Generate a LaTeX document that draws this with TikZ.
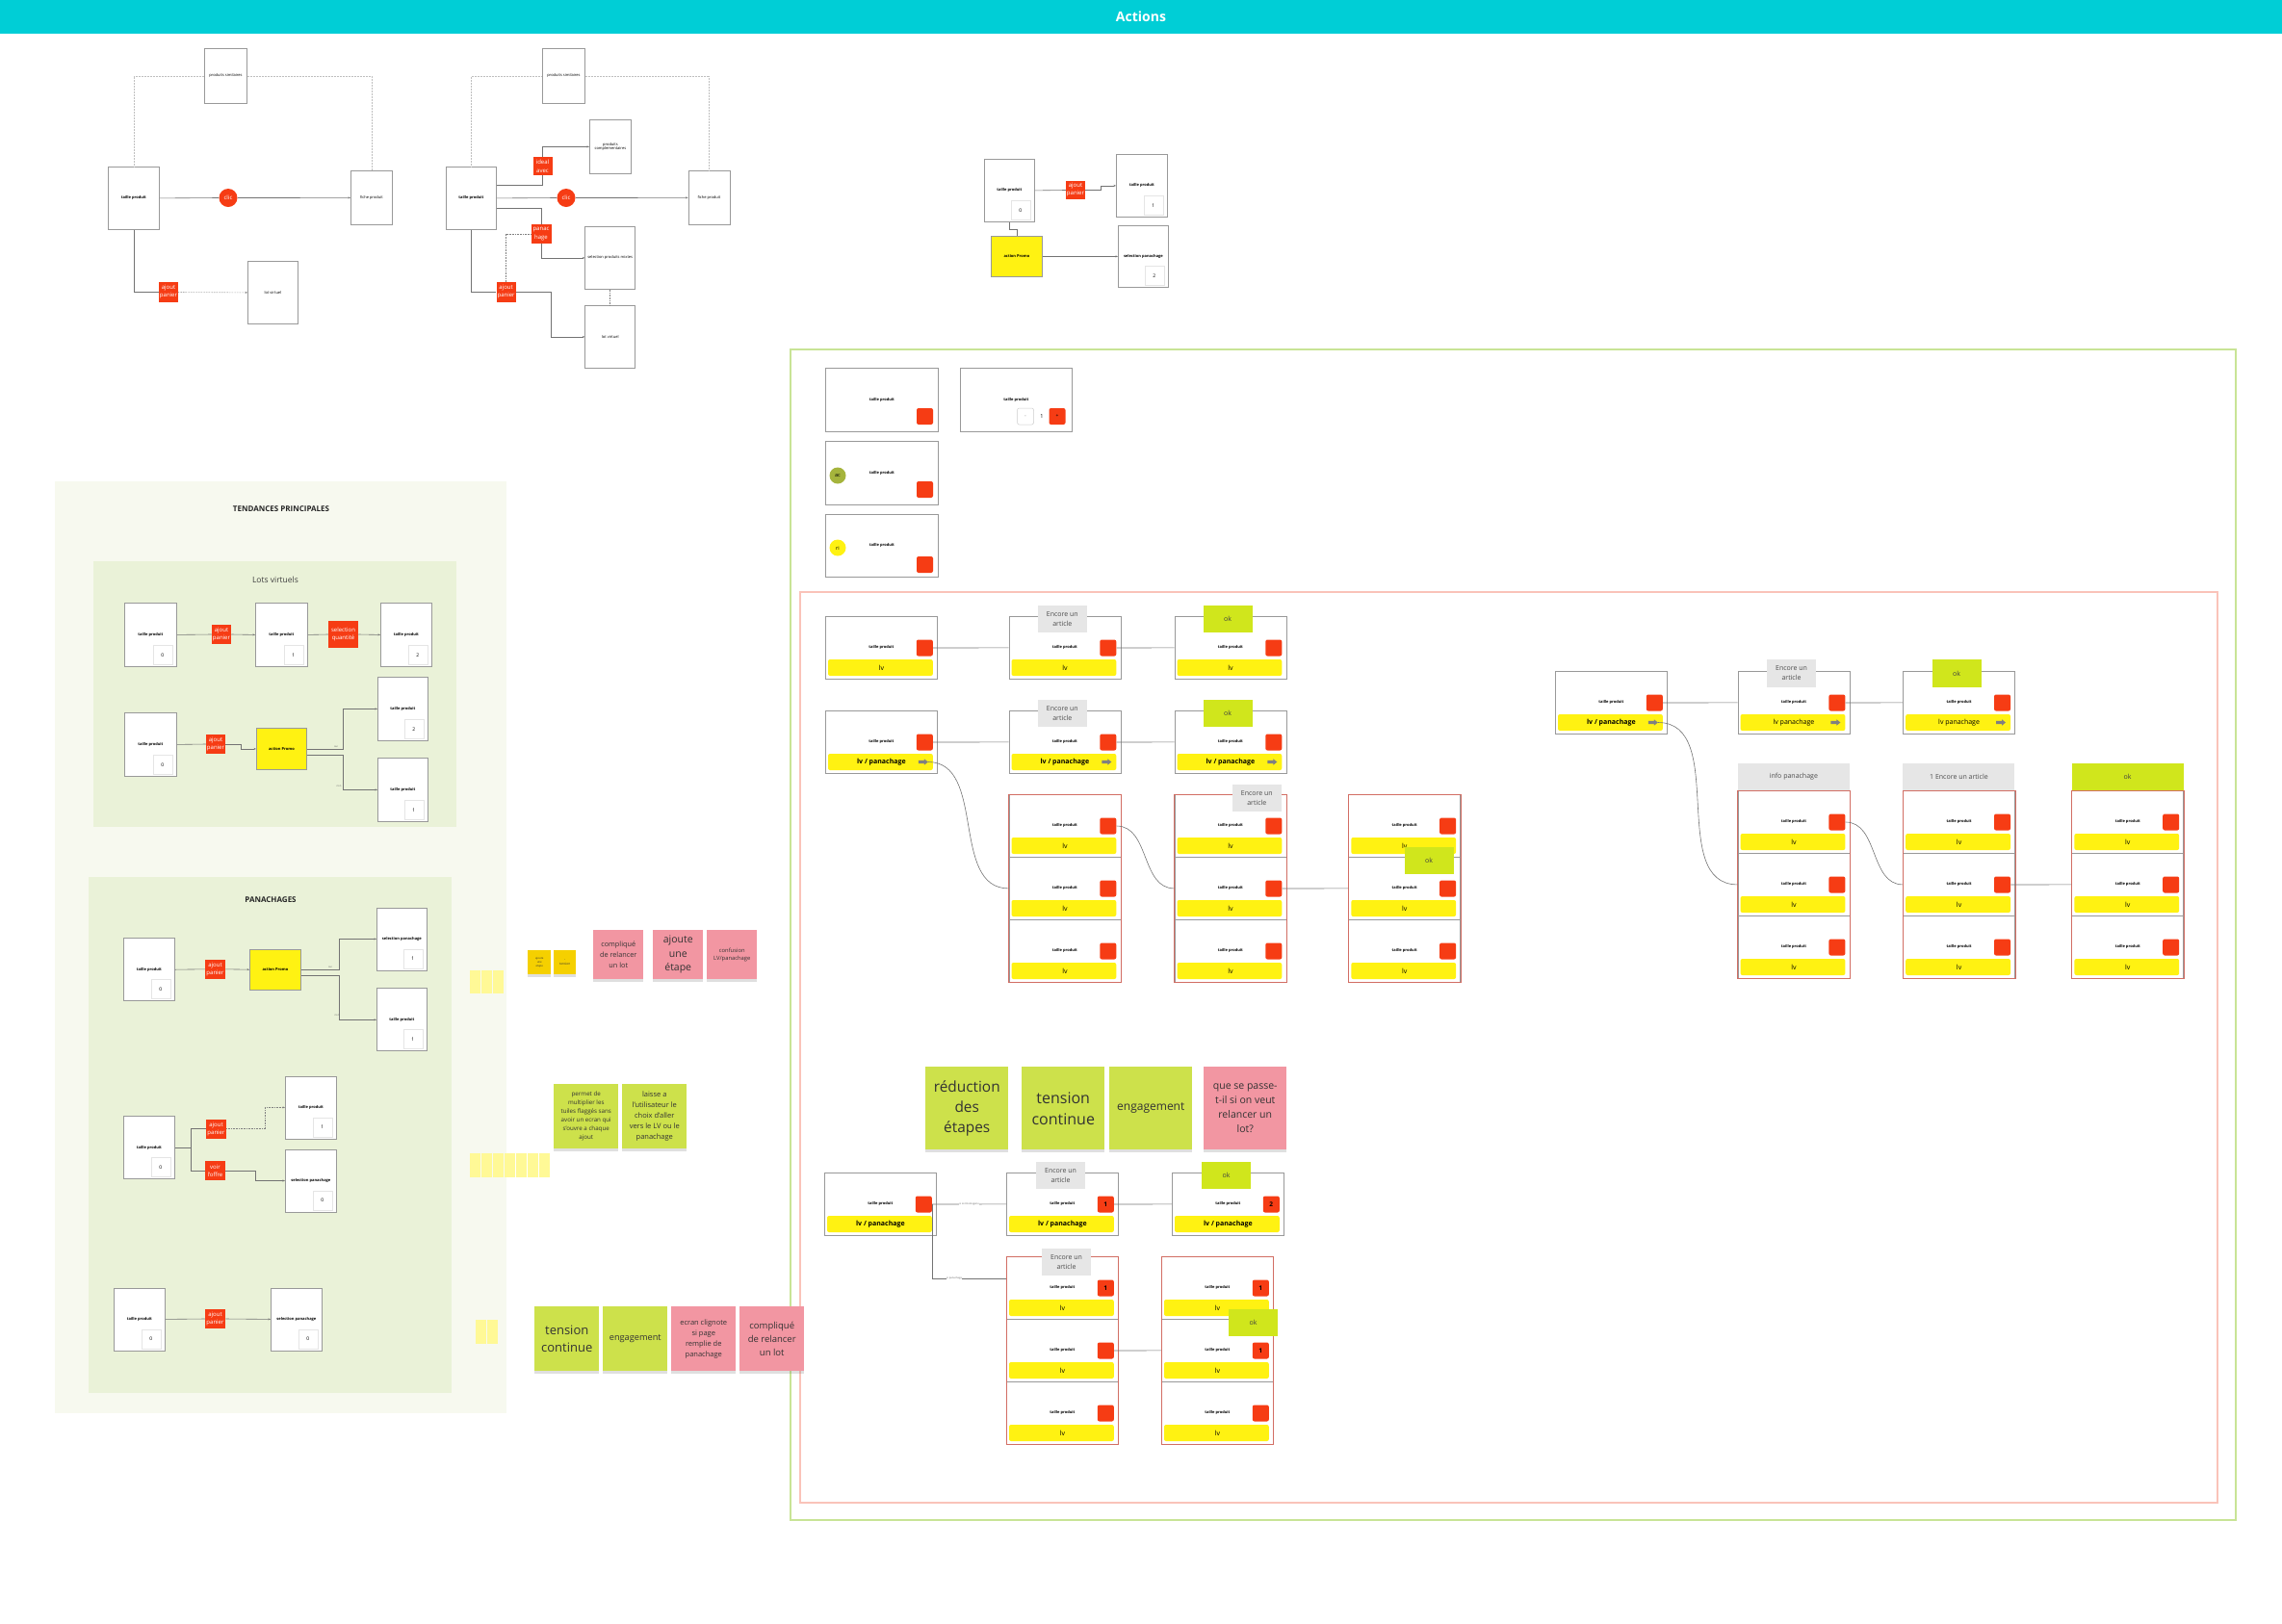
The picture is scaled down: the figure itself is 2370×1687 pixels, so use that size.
\documentclass[tikz,border=0pt]{standalone}
\usepackage{fontspec}
\setmainfont{Open Sans}
\usetikzlibrary{arrows.meta,shadows}

\definecolor{turquoise}{RGB}{0,206,214}
\definecolor{orangevif}{RGB}{246,60,20}
\definecolor{jaunevif}{RGB}{255,242,18}
\definecolor{vertok}{RGB}{208,230,28}
\definecolor{vertpostit}{RGB}{205,225,75}
\definecolor{rosepostit}{RGB}{242,150,162}
\definecolor{orpostit}{RGB}{245,208,0}
\definecolor{grisetiquette}{RGB}{230,230,230}
\definecolor{fondclair}{RGB}{247,249,239}
\definecolor{fondvert}{RGB}{234,242,216}
\definecolor{jaunepale}{RGB}{255,249,150}
\definecolor{cadrevert}{RGB}{200,228,150}
\definecolor{cadrerouge}{RGB}{250,195,185}
\definecolor{rougepile}{RGB}{210,110,100}
\definecolor{olive}{RGB}{165,180,60}

% tuile produit avec carre rouge et barre jaune
\newcommand{\tuile}[6]{%
  \node[tuilebox,minimum width=#4pt] (#1) at (#2,#3) {};
  \node[minilab] (#1-l) at ([yshift=-32pt]#1.north) {taille produit};
  \node[carre] (#1-sq) at ([xshift=-13.5pt,yshift=-33pt]#1.north east) {#6};
  \fill[jaunevif,rounded corners=2pt] ([xshift=3pt,yshift=-45pt]#1.north west) rectangle ([xshift=-5pt,yshift=-62pt]#1.north east);
  \node[bartxt] (#1-bar) at ([yshift=-53.5pt]#1.north) {#5};
}
% pile de trois tuiles
\newcommand{\pile}[7]{%
  \tuile{#1-1}{#2}{#3}{#4}{lv}{#5}%
  \tuile{#1-2}{#2}{#3+65}{#4}{lv}{#6}%
  \tuile{#1-3}{#2}{#3+130}{#4}{lv}{#7}%
  \draw[rougepile,line width=.9pt] (#1-1.north west) rectangle (#1-3.south east);
}
% petite fleche grise dans la barre
\newcommand{\fleche}[1]{%
  \coordinate (#1-arr) at ([xshift=-10pt,yshift=-53.5pt]#1.north east);
  \fill[black!50] (#1-arr) -- ++(-4,-3.2) -- ++(0,1.6) -- ++(-6,0) -- ++(0,3.2) -- ++(6,0) -- ++(0,1.6) -- cycle;
}
% ecran avec compteur
\newcommand{\ecran}[7]{%
  \node[boite,ecranfont,minimum width=#4pt,minimum height=#5pt] (#1) at (#2,#3) {#6};
  \node[num] (#1-n) at ([shift={(-15,-12.5)}]#1.south east) {#7};
}

\begin{document}
\begin{tikzpicture}[x=1pt,y=-1pt,line width=.5pt,
  boite/.style={draw=black!40,line width=.8pt,fill=white,inner sep=0pt,anchor=north west,align=center,font=\fontsize{4}{4.8}\selectfont},
  ecranfont/.style={font=\fontsize{4}{5}\selectfont\bfseries},
  tuilebox/.style={draw=black!40,line width=.8pt,fill=white,inner sep=0pt,anchor=north west,minimum height=65pt},
  minilab/.style={inner sep=0pt,font=\fontsize{4}{5}\selectfont\bfseries},
  carre/.style={fill=orangevif,rounded corners=2pt,minimum size=17pt,inner sep=0pt,font=\fontsize{6.5}{7}\selectfont\bfseries},
  bartxt/.style={inner sep=0pt,font=\fontsize{7}{8}\selectfont},
  num/.style={draw=black!10,fill=white,inner sep=0pt,minimum size=20pt,font=\fontsize{5}{6}\selectfont},
  etiq/.style={fill=orangevif,text=white,inner sep=0pt,align=center,font=\fontsize{6}{8}\selectfont},
  clic/.style={circle,fill=orangevif,text=white,inner sep=0pt,minimum size=19pt,font=\fontsize{6}{7}\selectfont},
  encore/.style={fill=grisetiquette,text=black!70,inner sep=0pt,align=center,minimum width=51pt,minimum height=28pt,font=\fontsize{7}{10}\selectfont},
  okbox/.style={fill=vertok,text=black!75,inner sep=0pt,minimum width=51pt,minimum height=28pt,font=\fontsize{7}{8}\selectfont},
  lien/.style={draw=black!55,line width=.6pt},
  fl/.style={-{Stealth[length=2.5pt,width=2pt]}},
  pointille/.style={draw=black!25,densely dotted,line width=.5pt},
  pointfonce/.style={draw=black!50,densely dotted,line width=.6pt},
  postit/.style={anchor=north west,inner sep=0pt,align=center,text=black!80,drop shadow={shadow xshift=0pt,shadow yshift=-3pt,opacity=.25}},
  mini/.style={inner sep=.3pt,font=\fontsize{2.6}{3}\selectfont,text=black!60},
  pastille/.style={circle,inner sep=0pt,minimum size=17pt,font=\fontsize{5.5}{6}\selectfont}]
\path[use as bounding box] (0,0) rectangle (2370,1687);

% bandeau
\fill[turquoise] (0,0) rectangle (2370,35);
\node[text=white,font=\fontsize{14}{16}\selectfont\bfseries] (titre) at (1185,17) {Actions};

% cadres
\draw[cadrevert,line width=1.2pt] (821,363) rectangle (2322,1579);
\draw[cadrerouge,line width=1.2pt] (831,615) rectangle (2303,1561);
\fill[fondclair] (57,500) rectangle (526,1468);

% parcours 1
\node[boite,minimum width=44pt,minimum height=57pt] (sim1) at (212,50) {produits similaires};
\node[boite,minimum width=53pt,minimum height=65pt,font=\fontsize{4}{4.8}\selectfont\bfseries] (tp1) at (112,173) {taille produit};
\node[boite,minimum width=43pt,minimum height=56pt] (fiche1) at (364,177) {fiche produit};
\node[boite,minimum width=52pt,minimum height=65pt] (lot1) at (257,271) {lot virtuel};
\node[clic] (clic1) at (237,205.5) {clic};
\node[etiq,minimum width=20pt,minimum height=21pt] (ajout1) at (175,303.5) {ajout\\panier};
\draw[lien] (tp1.east) -- (clic1.west);
\draw[lien,fl] (clic1.east) -- (fiche1.west);
\draw[pointille] (tp1.north) |- (sim1.west);
\draw[pointille] (sim1.east) -| (fiche1.north);
\draw[lien] (tp1.south) |- (ajout1.west);
\draw[pointfonce,fl] (ajout1.east) -- (lot1.west);

% parcours 2
\node[boite,minimum width=44pt,minimum height=57pt] (sim2) at (563,50) {produits similaires};
\node[boite,minimum width=52pt,minimum height=65pt,font=\fontsize{4}{4.8}\selectfont\bfseries] (tp2) at (463,173) {taille produit};
\node[boite,minimum width=43pt,minimum height=56pt] (comp2) at (612,124) {produits\\complementaires};
\node[boite,minimum width=43pt,minimum height=56pt] (fiche2) at (714.5,177) {fiche produit};
\node[boite,minimum width=52pt,minimum height=65pt] (sel2) at (607.3,235) {selection produits mixtes};
\node[boite,minimum width=52pt,minimum height=65pt] (lot2) at (607.3,317) {lot virtuel};
\node[clic] (clic2) at (588,205.5) {clic};
\node[etiq,minimum width=20pt,minimum height=19pt,font=\fontsize{6}{8.5}\selectfont] (ideal2) at (563.5,172.5) {ideal\\avec};
\node[etiq,minimum width=21pt,minimum height=20pt,font=\fontsize{6}{8.5}\selectfont] (panac2) at (562,243) {panac\\hage};
\node[etiq,minimum width=20pt,minimum height=21pt] (ajout2) at (525.6,303.5) {ajout\\panier};
\draw[lien] (tp2.east) -- (clic2.west);
\draw[lien,fl] (clic2.east) -- (fiche2.west);
\draw[lien] ([yshift=13.5pt]tp2.east) -| (ideal2.south);
\draw[lien,fl] (ideal2.north) |- (comp2.west);
\draw[lien] ([yshift=-10.5pt]tp2.east) -| (panac2.north);
\draw[lien,fl] (panac2.south) |- (sel2.west);
\draw[lien] (tp2.south) |- (ajout2.west);
\draw[lien,fl] (ajout2.east) -- ++(36,0) |- (lot2.west);
\draw[pointfonce] (ajout2.north) |- (panac2.west);
\draw[pointfonce] (sel2.south) -- (lot2.north);
\draw[pointille] (tp2.north) |- (sim2.west);
\draw[pointille] (sim2.east) -| (fiche2.north);

% parcours 3
\ecran{tp3}{1022}{165}{52}{65}{taille produit}{0}
\node[etiq,minimum width=20pt,minimum height=19pt] (ajout3) at (1117,197.5) {ajout\\panier};
\ecran{tp3b}{1159}{160}{53}{65}{taille produit}{1}
\node[boite,ecranfont,fill=jaunevif,minimum width=53pt,minimum height=42pt] (promo3) at (1029,245) {action Promo};
\ecran{sel3}{1161}{234}{52}{64}{selection panachage}{2}
\draw[lien] (tp3.east) -- (ajout3.west);
\draw[lien,fl] (ajout3.east) -- ++(16,0) |- (tp3b.west);
\draw[lien] (tp3.south) -- ++(0,7) -| (promo3.north);
\draw[lien,fl] (promo3.east) -- (sel3.west);

% tendances principales
\node[text=black!85,font=\fontsize{8}{9}\selectfont\bfseries] (tendances) at (292,529) {TENDANCES PRINCIPALES};
\fill[fondvert] (97,583) rectangle (474,859);
\node[text=black!75,font=\fontsize{8.5}{10}\selectfont] (lotsv) at (286,602) {Lots virtuels};
\ecran{lvA}{129}{626}{54}{66}{taille produit}{0}
\node[etiq,minimum width=20pt,minimum height=20pt] (ajoutlv1) at (230,659) {ajout\\panier};
\ecran{lvB}{265}{626}{54}{66}{taille produit}{1}
\node[etiq,minimum width=31pt,minimum height=28pt] (selq) at (356.5,659) {selection\\quantité};
\ecran{lvC}{395}{626}{53}{66}{taille produit}{2}
\draw[lien] (lvA.east) -- (ajoutlv1.west);
\draw[lien,fl] (ajoutlv1.east) -- (lvB.west);
\draw[lien] (lvB.east) -- (selq.west);
\draw[lien,fl] (selq.east) -- (lvC.west);
\ecran{lvD}{129}{740}{54}{66}{taille produit}{0}
\node[etiq,minimum width=20pt,minimum height=20pt] (ajoutlv2) at (224,773) {ajout\\panier};
\node[boite,ecranfont,fill=jaunevif,minimum width=52pt,minimum height=43pt] (promolv) at (266,756) {action Promo};
\ecran{lvE}{392}{703}{52}{66}{taille produit}{2}
\ecran{lvF}{392}{787}{52}{66}{taille produit}{1}
\draw[lien] (lvD.east) -- (ajoutlv2.west);
\draw[lien,fl] (ajoutlv2.east) -- ++(16,0) |- (promolv.west);
\draw[lien,fl] (promolv.east) -- ++(37,0) |- (lvE.west);
\draw[lien,fl] ([yshift=-6.5pt]promolv.east) -- ++(37,0) |- (lvF.west);
\node[mini] (oui1) at (349,775.5) {oui};
\node[mini] (non1) at (352,817) {non};

% panachages
\fill[fondvert] (92,911) rectangle (469,1447);
\node[text=black!85,font=\fontsize{8}{9}\selectfont\bfseries] (panachages) at (281,934.5) {PANACHAGES};
\ecran{panA}{128}{974.3}{53}{65}{taille produit}{0}
\node[etiq,minimum width=21pt,minimum height=20pt] (ajoutp1) at (223.5,1006.8) {ajout\\panier};
\node[boite,ecranfont,fill=jaunevif,minimum width=53pt,minimum height=42pt] (promop) at (259,985.8) {action Promo};
\ecran{panB}{391}{942.5}{52}{65}{selection panachage}{1}
\ecran{panC}{391}{1026.4}{52}{65}{taille produit}{1}
\draw[lien] (panA.east) -- (ajoutp1.west);
\draw[lien,fl] (ajoutp1.east) -- (promop.west);
\draw[lien,fl] (promop.east) -- ++(39,0) |- (panB.west);
\draw[lien,fl] ([yshift=-6.5pt]promop.east) -- ++(39,0) |- (panC.west);
\node[mini] (oui2) at (343,1005) {oui};
\node[mini] (non2) at (350,1055) {non};
\ecran{panD}{128}{1159.3}{53}{65}{taille produit}{0}
\node[etiq,minimum width=21pt,minimum height=20pt] (ajoutp2) at (224.5,1172.7) {ajout\\panier};
\node[etiq,minimum width=21pt,minimum height=20pt] (voirp) at (223.5,1216.2) {voir\\l'offre};
\ecran{panE}{296}{1117.5}{53}{65}{taille produit}{1}
\ecran{panF}{296}{1193.6}{53}{65}{selection panachage}{0}
\draw[lien] (panD.east) -- ++(16,0) coordinate (fourche);
\draw[lien] (fourche) |- (ajoutp2.west);
\draw[lien] (fourche) |- (voirp.west);
\draw[pointfonce,fl] (ajoutp2.east) -- ++(40,0) |- (panE.west);
\draw[lien,fl] (voirp.east) -- ++(31,0) |- (panF.west);
\ecran{panG}{118}{1337.5}{53}{65}{taille produit}{0}
\node[etiq,minimum width=21pt,minimum height=20pt] (ajoutp3) at (223.5,1370) {ajout\\panier};
\ecran{panH}{281}{1337.5}{53}{65}{selection panachage}{0}
\draw[lien] (panG.east) -- (ajoutp3.west);
\draw[lien,fl] (ajoutp3.east) -- (panH.west);

% petits carres jaunes
\foreach \i in {0,1,2} \fill[jaunepale] (488+12*\i,1008) rectangle ++(11.4,24);
\foreach \i in {0,...,6} \fill[jaunepale] (488+12*\i,1198) rectangle ++(11.4,25);
\foreach \i in {0,1} \fill[jaunepale] (494+12*\i,1371) rectangle ++(11.4,25);

% post-it
\node[postit,fill=orpostit,minimum width=24pt,minimum height=25pt,font=\fontsize{2.8}{3.8}\selectfont] (or1) at (548,987) {ajoute\\une\\etape};
\node[postit,fill=orpostit,minimum width=23pt,minimum height=25pt,font=\fontsize{3.2}{4.5}\selectfont] (or2) at (575,987) {-\\tension};
\node[postit,fill=rosepostit,minimum width=52pt,minimum height=51pt,font=\fontsize{7.3}{11}\selectfont] (rose1) at (616,966) {compliqué\\de relancer\\un lot};
\node[postit,fill=rosepostit,minimum width=52pt,minimum height=51pt,font=\fontsize{10.5}{14.5}\selectfont] (rose2) at (678,966) {ajoute\\une\\étape};
\node[postit,fill=rosepostit,minimum width=52pt,minimum height=51pt,font=\fontsize{5.8}{8}\selectfont] (rose3) at (734,966) {confusion\\LV/panachage};
\node[postit,fill=vertpostit,minimum width=67pt,minimum height=67pt,font=\fontsize{6.2}{9}\selectfont] (vert1) at (575,1126) {permet de\\multiplier les\\tuiles flaggés sans\\avoir un ecran qui\\s'ouvre a chaque\\ajout};
\node[postit,fill=vertpostit,minimum width=67pt,minimum height=67pt,font=\fontsize{7.5}{11}\selectfont] (vert2) at (646,1126) {laisse a\\l'utilisateur le\\choix d'aller\\vers le LV ou le\\panachage};
\node[postit,fill=vertpostit,minimum width=67pt,minimum height=67pt,font=\fontsize{13}{18}\selectfont] (vert3) at (555,1357) {tension\\continue};
\node[postit,fill=vertpostit,minimum width=67pt,minimum height=67pt,font=\fontsize{9.2}{11}\selectfont] (vert4) at (626,1357) {engagement};
\node[postit,fill=rosepostit,minimum width=67pt,minimum height=67pt,font=\fontsize{7.5}{11}\selectfont] (rose4) at (697,1357) {ecran clignote\\si page\\remplie de\\panachage};
\node[postit,fill=rosepostit,minimum width=67pt,minimum height=67pt,font=\fontsize{9.5}{14}\selectfont] (rose5) at (768,1357) {compliqué\\de relancer\\un lot};
\node[postit,fill=vertpostit,minimum width=86pt,minimum height=86pt,font=\fontsize{15.4}{21}\selectfont] (vert5) at (961,1108) {réduction\\des\\étapes};
\node[postit,fill=vertpostit,minimum width=86pt,minimum height=86pt,font=\fontsize{16}{22}\selectfont] (vert6) at (1061,1108) {tension\\continue};
\node[postit,fill=vertpostit,minimum width=86pt,minimum height=86pt,font=\fontsize{12}{14}\selectfont] (vert7) at (1152,1108) {engagement};
\node[postit,fill=rosepostit,minimum width=86pt,minimum height=86pt,font=\fontsize{10.5}{15}\selectfont] (rose6) at (1250,1108) {que se passe-\\t-il si on veut\\relancer un\\lot?};

% tuiles du haut
\node[boite,minimum width=117pt,minimum height=66pt,font=\fontsize{4}{5}\selectfont\bfseries] (g1) at (857,382) {taille produit};
\node[carre] (g1-sq) at (960.5,432.5) {};
\node[boite,minimum width=116pt,minimum height=66pt,font=\fontsize{4}{5}\selectfont\bfseries] (g2) at (997,382) {taille produit};
\node[draw=black!20,fill=white,rounded corners=2pt,minimum size=17pt,inner sep=0pt,font=\fontsize{4}{5}\selectfont] (g2-m) at (1065,432.5) {-};
\node[inner sep=0pt,font=\fontsize{5.5}{6}\selectfont] (g2-q) at (1082,432.5) {1};
\node[carre,font=\fontsize{5}{6}\selectfont] (g2-p) at (1098,432.5) {+};
\node[boite,minimum width=117pt,minimum height=66pt,font=\fontsize{4}{5}\selectfont\bfseries] (g3) at (857,458) {taille produit};
\node[pastille,fill=olive] (g3-c) at (870,494) {ac};
\node[carre] (g3-sq) at (960.5,508.5) {};
\node[boite,minimum width=117pt,minimum height=65pt,font=\fontsize{4}{5}\selectfont\bfseries] (g4) at (857,534) {taille produit};
\node[pastille,fill=jaunevif] (g4-c) at (870,569) {ri};
\node[carre] (g4-sq) at (960.5,586.5) {};

% lv
\tuile{r1a}{857}{640}{116}{lv}{}
\tuile{r1b}{1047.5}{640}{116}{lv}{}
\tuile{r1c}{1219.5}{640}{116}{lv}{}
\node[encore] (r1b-e) at (1103.3,643) {Encore un\\article};
\node[okbox] (r1c-ok) at (1275,643) {ok};
\draw[lien] (r1a-sq.east) -- (r1b.west);
\draw[lien] (r1b-sq.east) -- (r1c.west);

% lv / panachage
\tuile{r2a}{857}{738}{116}{\textbf{lv / panachage}}{}
\fleche{r2a}
\tuile{r2b}{1047.5}{738}{116}{\textbf{lv / panachage}}{}
\fleche{r2b}
\tuile{r2c}{1219.5}{738}{116}{\textbf{lv / panachage}}{}
\fleche{r2c}
\node[encore] (r2b-e) at (1103.3,741) {Encore un\\article};
\node[okbox] (r2c-ok) at (1275,741) {ok};
\draw[lien] (r2a-sq.east) -- (r2b.west);
\draw[lien] (r2b-sq.east) -- (r2c.west);
\pile{pA}{1047.5}{825}{116}{}{}{}
\pile{pB}{1219.5}{825}{116}{}{}{}
\pile{pC}{1400.3}{825}{116}{}{}{}
\node[encore] (pB-e) at (1305.3,829) {Encore un\\article};
\node[okbox] (pC-ok) at (1484,894) {ok};
\draw[lien] (r2a-arr) to[out=0,in=180] (pA-2.west);
\draw[lien] (pA-1-sq.east) to[out=0,in=180] (pB-2.west);
\draw[lien] (pB-2-sq.east) -- (pC-2.west);

% lv / panachage, variante droite
\tuile{q1}{1615}{697}{116}{\textbf{lv / panachage}}{}
\fleche{q1}
\tuile{q2}{1804.6}{697}{116}{lv panachage}{}
\fleche{q2}
\tuile{q3}{1976.2}{697}{116}{lv panachage}{}
\fleche{q3}
\node[encore,minimum height=29pt] (q2-e) at (1860.5,699.5) {Encore un\\article};
\node[okbox,minimum height=29pt] (q3-ok) at (2032,699.5) {ok};
\draw[lien] (q1-sq.east) -- (q2.west);
\draw[lien] (q2-sq.east) -- (q3.west);
\pile{qA}{1804.6}{821}{116}{}{}{}
\pile{qB}{1976.2}{821}{116}{}{}{}
\pile{qC}{2151.4}{821}{116}{}{}{}
\node[encore,minimum width=116pt,anchor=south west] (qA-h) at (qA-1.north west) {info panachage};
\node[encore,minimum width=116pt,anchor=south west] (qB-h) at (qB-1.north west) {1 Encore un article};
\node[okbox,minimum width=116pt,anchor=south west] (qC-h) at (qC-1.north west) {ok};
\draw[lien] (q1-arr) to[out=0,in=180] (qA-2.west);
\draw[lien] (qA-1-sq.east) to[out=0,in=180] (qB-2.west);
\draw[lien] (qB-2-sq.east) -- (qC-2.west);

% compteurs
\tuile{b1}{856}{1218}{116}{\textbf{lv / panachage}}{}
\tuile{b2}{1045}{1218}{116}{\textbf{lv / panachage}}{1}
\tuile{b3}{1217}{1218}{116}{\textbf{lv / panachage}}{2}
\pile{bA}{1045}{1305}{116}{1}{}{}
\pile{bB}{1206}{1305}{116}{1}{1}{}
\node[encore] (b2-e) at (1101.5,1221) {Encore un\\article};
\node[okbox] (b3-ok) at (1273.5,1221) {ok};
\node[encore] (bA-e) at (1107.5,1311) {Encore un\\article};
\node[okbox] (bB-ok) at (1301.5,1374) {ok};
\draw[lien] (b1-sq.east) -- node[mini,fill=white] (homog) {si Lot Homogene} (b2.west);
\draw[lien] (b2-sq.east) -- (b3.west);
\draw[lien] (b1-sq.east) |- node[mini,pos=.65,fill=white] (sipan) {si panachage} ([yshift=10pt]bA-1.west);
\draw[lien] (bA-2-sq.east) -- (bB-2.west);
\end{tikzpicture}
\end{document}
